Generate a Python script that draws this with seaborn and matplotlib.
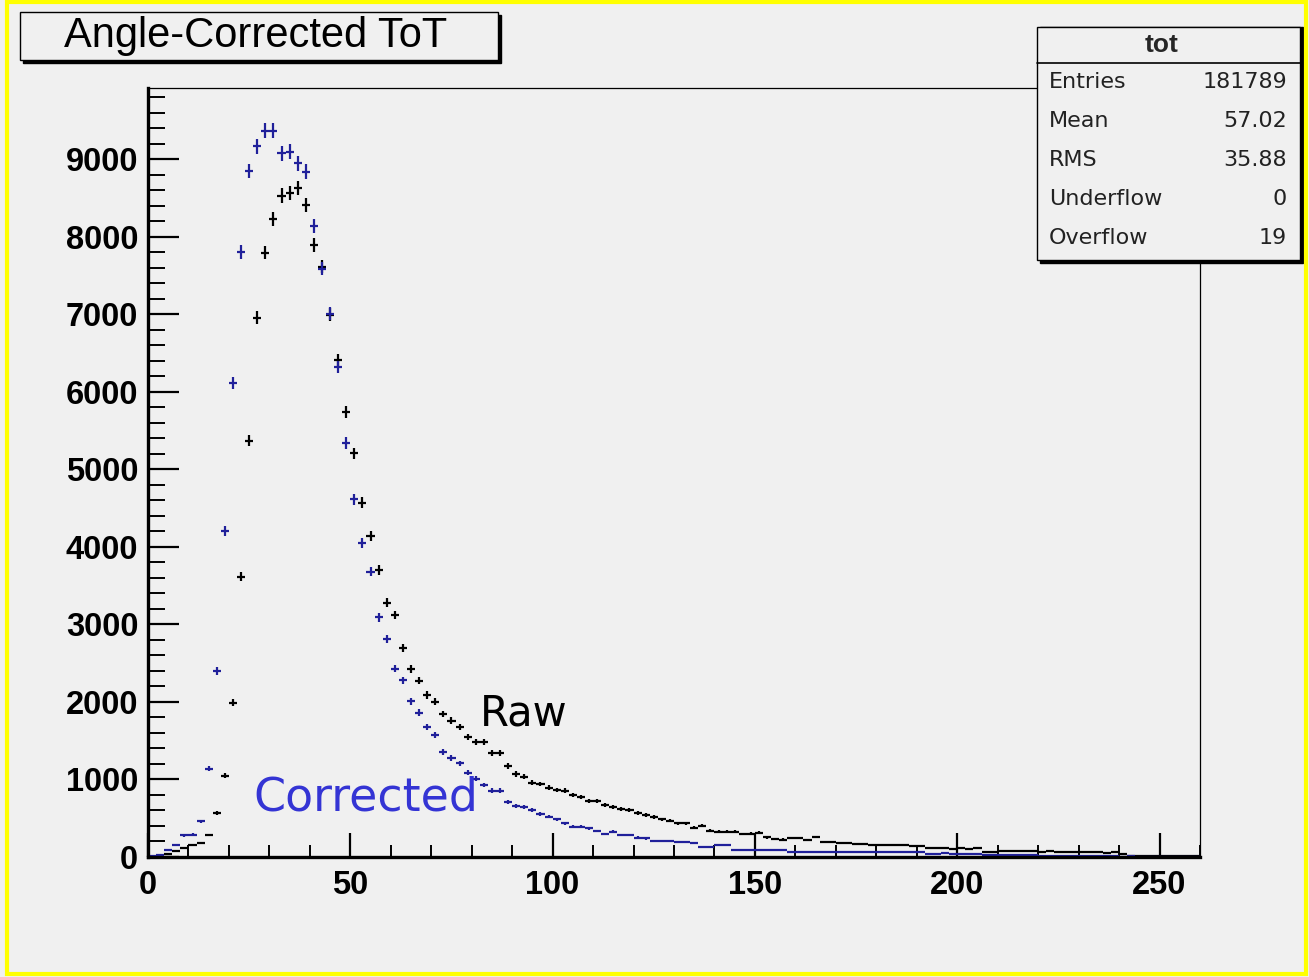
import numpy as np
import matplotlib
matplotlib.use("Agg")
import matplotlib.pyplot as plt
from matplotlib.patches import Rectangle
from matplotlib.lines import Line2D
from matplotlib.ticker import MultipleLocator
import seaborn as sns

# ------------------------------------------------------------
# data (bin width 2, bin centres 1..259)
# ------------------------------------------------------------
bin_centers = np.arange(1, 260, 2)

corrected = [
    10, 30, 90, 150, 280, 290, 460, 1140,
    2400, 4210, 6120, 7800, 8850, 9170, 9370, 9370,
    9080, 9100, 8950, 8840, 8140, 7590, 7010, 6320,
    5340, 4615, 4050, 3680, 3090, 2810, 2430, 2280,
    2010, 1860, 1680, 1575, 1350, 1275, 1210, 1090,
    1010, 930, 855, 855, 715, 658, 640, 605,
    555, 520, 486, 435, 391, 391, 370, 335,
    297, 327, 284, 284, 250, 241, 211, 211,
    211, 190, 190, 180, 135, 133, 150, 150,
    90, 90, 90, 95, 95, 95, 95, 70,
    70, 60, 60, 60, 60, 60, 65, 65,
    70, 65, 70, 65, 65, 70, 65, 65,
    45, 45, 48, 45, 42, 45, 45, 25,
    25, 28, 25, 22, 25, 25, 12, 10,
    10, 9, 10, 8, 9, 8, 7, 8,
    6, 7, 6, 5, 5, 4, 5, 4,
    4, 3,
]

raw = [
    3, 15, 40, 80, 120, 150, 176, 284,
    564, 1045, 1990, 3617, 5370, 6955, 7797, 8228,
    8533, 8563, 8628, 8413, 7897, 7617, 6994, 6413,
    5740, 5209, 4572, 4142, 3700, 3280, 3123, 2693,
    2422, 2275, 2090, 2004, 1845, 1759, 1673, 1552,
    1480, 1480, 1340, 1345, 1174, 1071, 1036, 959,
    942, 894, 865, 856, 800, 770, 726, 726,
    671, 641, 615, 606, 572, 542, 515, 486,
    468, 434, 434, 378, 404, 340, 327, 327,
    327, 297, 300, 314, 254, 232, 224, 245,
    245, 215, 258, 189, 198, 177, 180, 165,
    165, 160, 150, 150, 150, 150, 140, 140,
    110, 110, 112, 108, 110, 105, 110, 70,
    70, 80, 78, 82, 75, 80, 70, 72,
    70, 68, 70, 60, 62, 60, 58, 60,
    40, 15, 15, 14, 15, 13, 15, 12,
    10, 8,
]

stat_labels = ["Entries", "Mean", "RMS", "Underflow", "Overflow"]
stat_values = ["181789", "57.02", "35.88", "0", "19"]

W, H = 1309, 977
BG = "#f0f0f0"
BLUE = "#20209a"


def px(x, y):
    # pixel position (from top-left) -> figure fraction
    return x / W, 1 - y / H


# ------------------------------------------------------------
# figure
# ------------------------------------------------------------
sns.set_theme(style="ticks", rc={"axes.facecolor": BG, "figure.facecolor": BG})
plt.rcParams["font.family"] = ["Liberation Sans", "DejaVu Sans"]

fig = plt.figure(figsize=(W / 100, H / 100), dpi=100)
ax = fig.add_axes([148 / W, 120 / H, (1200 - 148) / W, (857 - 88) / H])

for counts, col in [(raw, "black"), (corrected, BLUE)]:
    counts = np.asarray(counts, dtype=float)
    ax.errorbar(bin_centers, counts, xerr=1.0, yerr=np.sqrt(counts),
                fmt="none", ecolor=col, elinewidth=1.6, capsize=0)

ax.set_xlim(0, 260)
ax.set_ylim(0, 9920)
ax.xaxis.set_major_locator(MultipleLocator(50))
ax.xaxis.set_minor_locator(MultipleLocator(10))
ax.yaxis.set_major_locator(MultipleLocator(1000))
ax.yaxis.set_minor_locator(MultipleLocator(200))

ax.tick_params(axis="y", which="major", direction="in", length=22, width=1.6,
               color="black", labelcolor="black", pad=7, labelsize=23.5)
ax.tick_params(axis="y", which="minor", direction="in", length=12, width=1.4, color="black")
ax.tick_params(axis="x", which="major", direction="in", length=17, width=1.6,
               color="black", labelcolor="black", pad=9, labelsize=23.5)
ax.tick_params(axis="x", which="minor", direction="in", length=9, width=1.4, color="black")
for lab in ax.get_xticklabels() + ax.get_yticklabels():
    lab.set_fontweight("bold")

for side in ["left", "bottom"]:
    ax.spines[side].set_linewidth(2.4)
    ax.spines[side].set_color("black")
for side in ["top", "right"]:
    ax.spines[side].set_linewidth(0.9)
    ax.spines[side].set_color("black")

ax.text(82, 1690, "Raw", color="black", fontsize=30, family=["DejaVu Sans"])
ax.text(26, 600, "Corrected", color="#3434d4", fontsize=33, family=["DejaVu Sans"])

# ------------------------------------------------------------
# title box
# ------------------------------------------------------------
x0, y0 = px(23, 63)
fig.add_artist(Rectangle((x0, y0), 478 / W, 48 / H, transform=fig.transFigure,
                         facecolor="black", edgecolor="black", zorder=5))
x0, y0 = px(20, 60)
fig.add_artist(Rectangle((x0, y0), 478 / W, 48 / H, transform=fig.transFigure,
                         facecolor=BG, edgecolor="black", lw=1, zorder=6))
fig.text(*px(256, 36), "Angle-Corrected ToT", fontsize=30, ha="center", va="center",
         color="black", zorder=7)

# ------------------------------------------------------------
# stats box
# ------------------------------------------------------------
x0, y0 = px(1040, 263)
fig.add_artist(Rectangle((x0, y0), 263 / W, 236 / H, transform=fig.transFigure,
                         facecolor="black", edgecolor="black", zorder=5))
x0, y0 = px(1037, 260)
fig.add_artist(Rectangle((x0, y0), 263 / W, 233 / H, transform=fig.transFigure,
                         facecolor=BG, edgecolor="black", lw=1, zorder=6))
fig.add_artist(Line2D([1037 / W, 1300 / W], [1 - 63 / H, 1 - 63 / H],
                      transform=fig.transFigure, color="black", lw=1.2, zorder=7))
fig.text(*px(1162, 45), "tot", fontsize=19, fontweight="bold", ha="center", va="center",
         zorder=7)
for i, (lab, val) in enumerate(zip(stat_labels, stat_values)):
    yy = 82 + i * 39
    fig.text(*px(1049, yy), lab, fontsize=16, ha="left", va="center",
             family=["DejaVu Sans"], color="#222222", zorder=7)
    fig.text(*px(1287, yy), val, fontsize=16, ha="right", va="center",
             family=["DejaVu Sans"], color="#222222", zorder=7)

# yellow frame
x0, y0 = px(7, 974)
fig.add_artist(Rectangle((x0, y0), 1299 / W, 972 / H, transform=fig.transFigure,
                         facecolor="none", edgecolor="#ffff00", lw=3, zorder=8))

fig.savefig("out.png", dpi=100, facecolor=BG)
